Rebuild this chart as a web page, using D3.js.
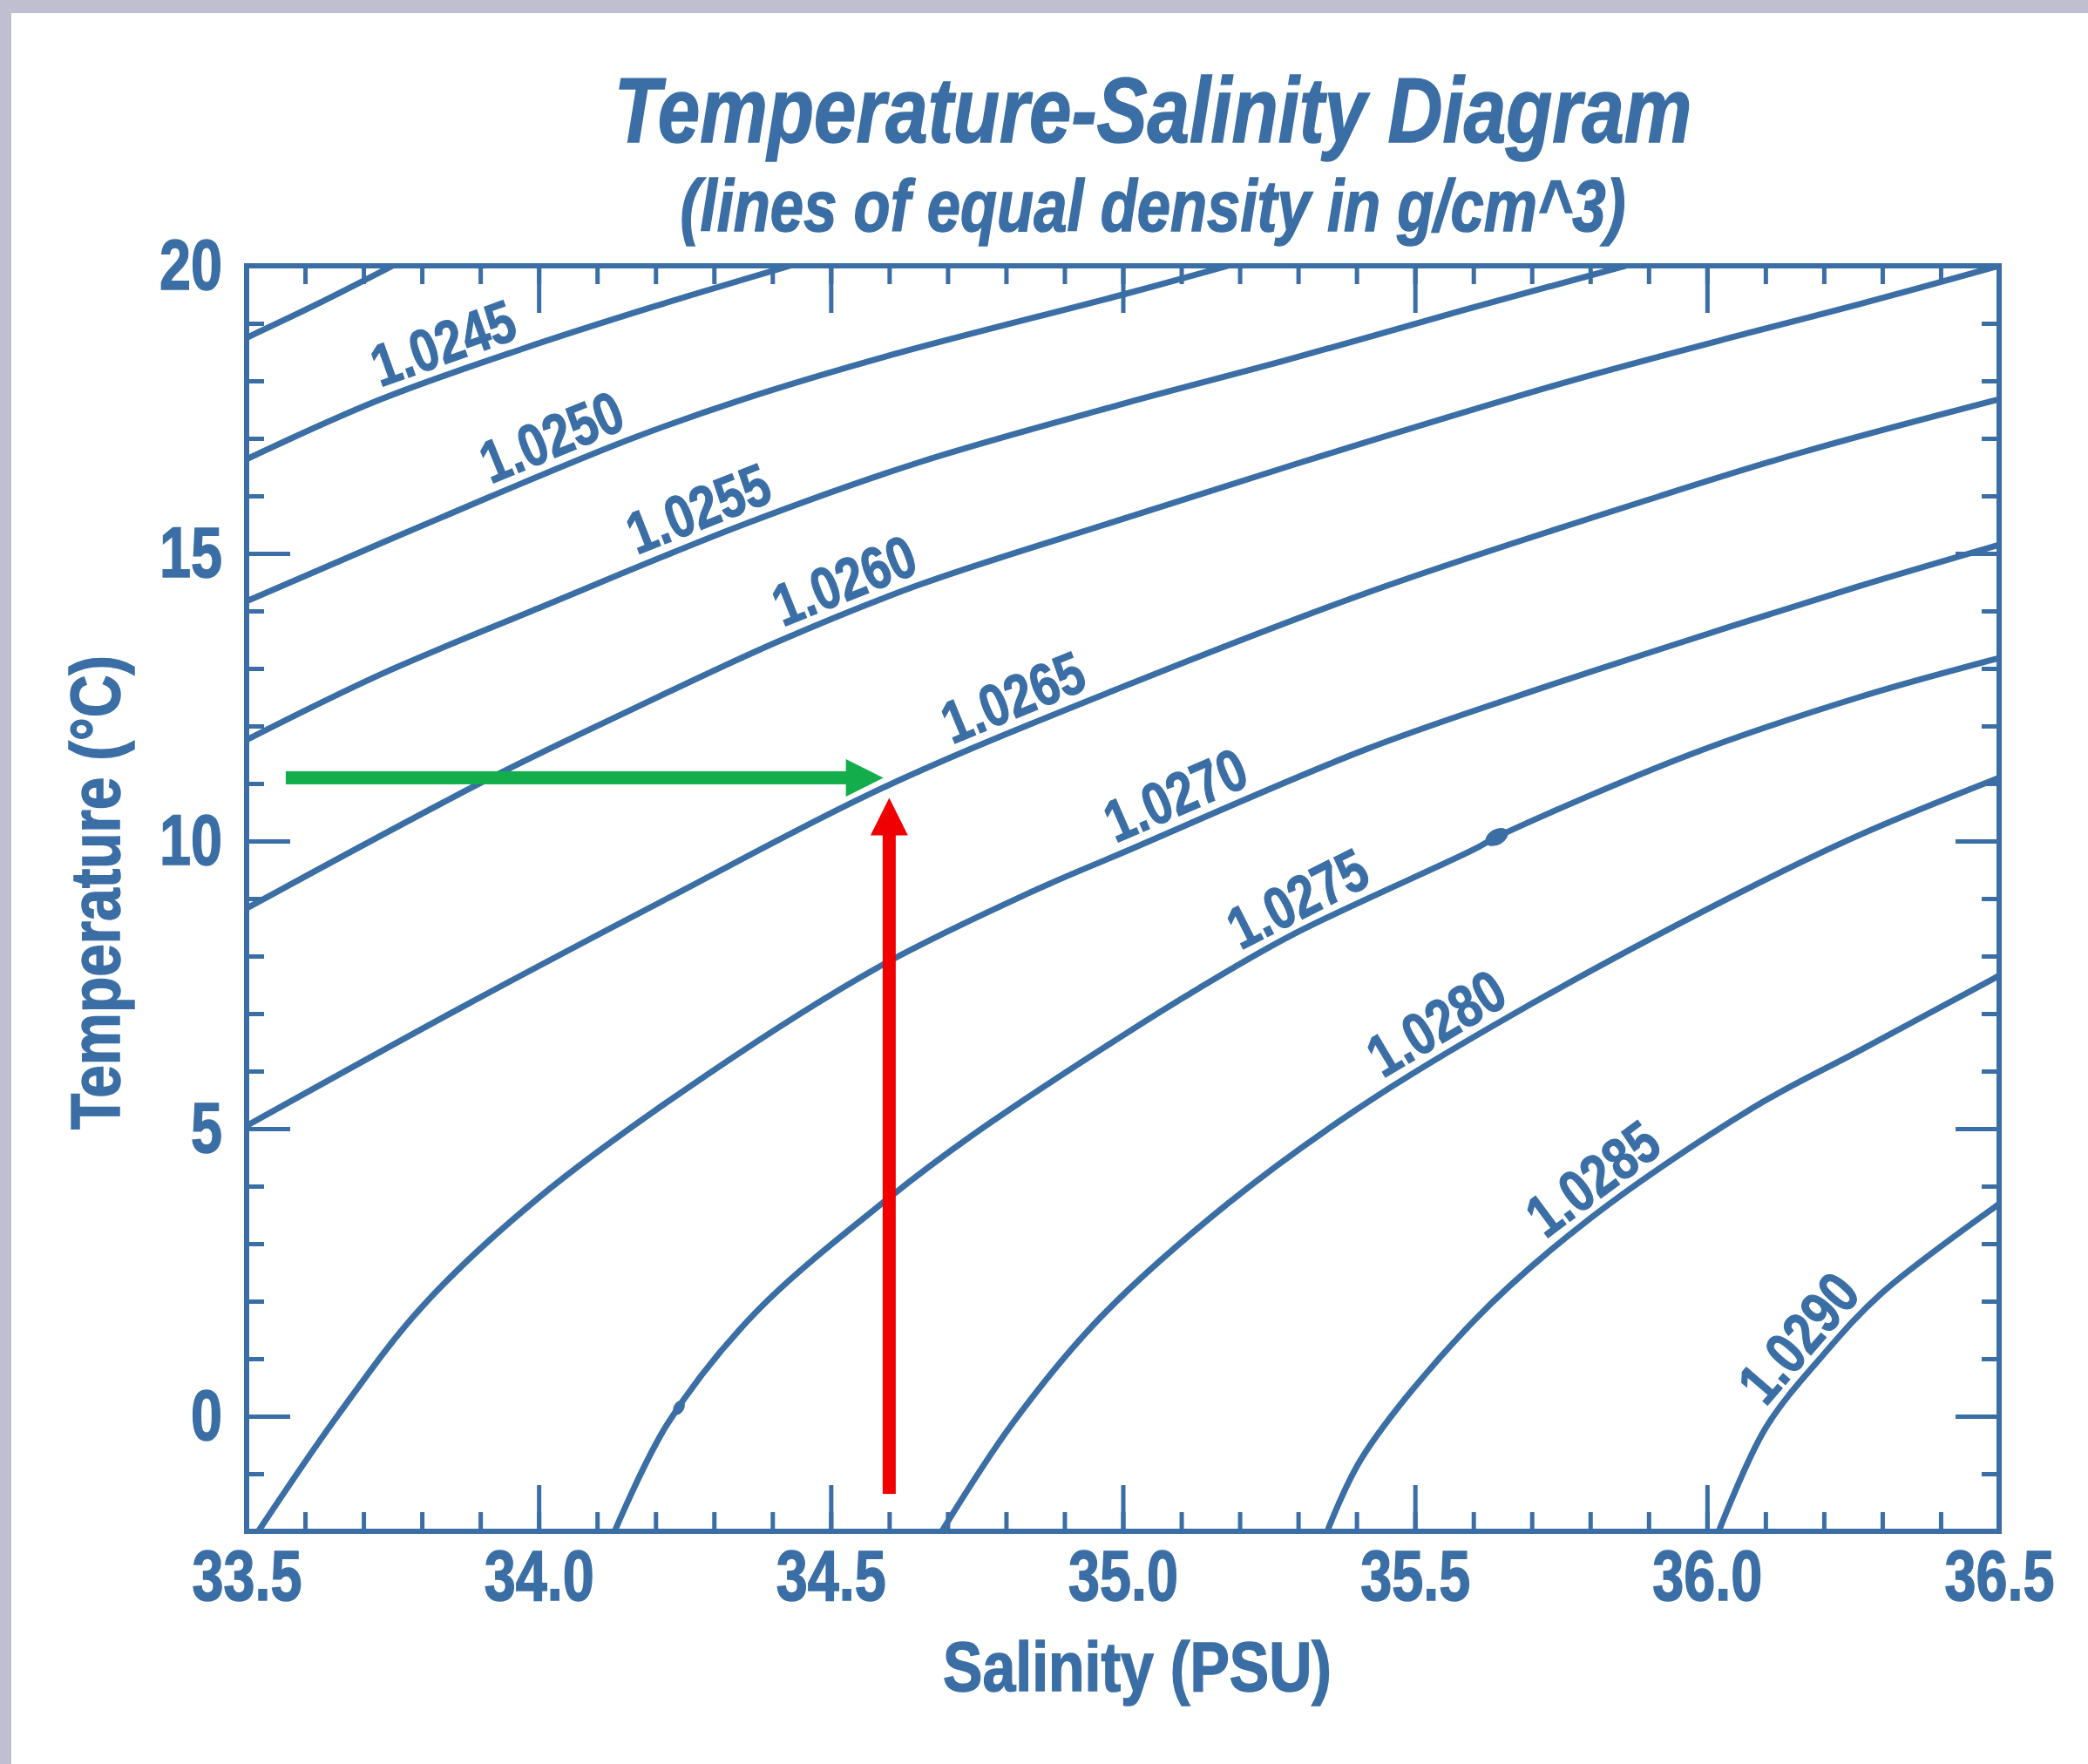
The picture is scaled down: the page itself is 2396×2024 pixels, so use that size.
<!DOCTYPE html>
<html>
<head>
<meta charset="utf-8">
<title>Temperature-Salinity Diagram</title>
<script src="https://cdn.jsdelivr.net/npm/d3@7"></script>
<style>
  html, body { margin: 0; padding: 0; background: #fff; }
  svg { display: block; }
  text { font-family: "Liberation Sans", Arial, sans-serif; font-weight: bold; }
</style>
</head>
<body>
<svg id="chart" width="2396" height="2024"></svg>
<script>
// Axis ticks
const salinityTicks = [33.5, 34.0, 34.5, 35.0, 35.5, 36.0, 36.5];
const temperatureTicks = [0, 5, 10, 15, 20];

// Lines of equal density as [salinity, temperature]
const rho10240 = [[33.5, 18.75], [33.62, 19.33], [33.75, 20.0]];
const rho10245 = [[33.5, 16.64], [33.73, 17.68], [33.97, 18.55], [34.2, 19.3], [34.43, 20.0]];
const rho10250 = [[33.5, 14.17], [33.92, 16.0], [34.16, 17.0], [34.35, 17.68], [34.6, 18.44], [35.0, 19.5], [35.18, 20.0]];
const rho10255 = [[33.5, 11.76], [33.73, 12.9], [34.0, 14.05], [34.35, 15.5], [34.65, 16.58], [35.0, 17.6], [35.28, 18.36], [35.58, 19.22], [35.86, 20.0]];
const rho10260 = [[33.5, 8.83], [33.92, 11.11], [34.16, 12.29], [34.41, 13.47], [34.65, 14.45], [35.0, 15.6], [35.38, 16.82], [35.77, 18.01], [36.07, 18.83], [36.26, 19.33], [36.5, 20.0]];
const rho10265 = [[33.5, 5.05], [33.87, 7.12], [34.22, 9.0], [34.59, 10.93], [35.0, 12.68], [35.43, 14.36], [35.92, 16.0], [36.16, 16.75], [36.5, 17.68]];
const rho10270 = [[33.52, -2.0], [33.655, 0.0], [33.8, 1.9], [34.0, 3.8], [34.29, 5.95], [34.58, 7.8], [34.84, 9.1], [35.0, 9.8], [35.41, 11.57], [35.67, 12.5], [35.97, 13.5], [36.26, 14.43], [36.5, 15.15]];
const rho10275 = [[34.13, -2.0], [34.22, -0.14], [34.37, 1.79], [34.6, 3.8], [34.74, 4.87], [35.0, 6.62], [35.13, 7.44], [35.29, 8.37], [35.6, 9.85], [35.64, 10.07], [35.97, 11.5], [36.26, 12.5], [36.5, 13.18]];
const rho10280 = [[34.69, -2.0], [34.81, -0.14], [34.96, 1.7], [35.18, 3.7], [35.41, 5.4], [35.67, 7.0], [36.04, 9.02], [36.26, 10.1], [36.5, 11.1]];
const rho10285 = [[35.35, -2.0], [35.41, -0.71], [35.6, 1.65], [35.8, 3.44], [36.08, 5.37], [36.26, 6.35], [36.5, 7.66]];
const rho10290 = [[36.02, -2.0], [36.1, -0.21], [36.2, 1.08], [36.3, 2.15], [36.5, 3.69]];

const isopycnals = [rho10240, rho10245, rho10250, rho10255, rho10260, rho10265,
                    rho10270, rho10275, rho10280, rho10285, rho10290];
const densityLabels = ["", "1.0245", "1.0250", "1.0255", "1.0260", "1.0265",
                       "1.0270", "1.0275", "1.0280", "1.0285", "1.0290"];
const labelStartS = [null, 33.735, 33.925, 34.175, 34.425, 34.715, 34.995, 35.21, 35.455, 35.735, 36.115];

// Little blots on the 1.0275 line
const blots = [[34.24, 0.15], [35.64, 10.07]];

// Reading example: 11 °C and 34.6 PSU
const greenArrow = [[33.567, 11.1], [34.59, 11.1]];
const redArrow = [[34.6, -1.35], [34.6, 10.75]];

const BLUE = "#3a6ea5";
const svg = d3.select("#chart");
const box = { left: 283, right: 2294, top: 305, bottom: 1757 };

const x = d3.scaleLinear().domain([33.5, 36.5]).range([box.left, box.right]);
const y = d3.scaleLinear().domain([-2, 20]).range([box.bottom, box.top]);

// page background and the grey frame at top/left
svg.append("rect").attr("width", 2396).attr("height", 2024).attr("fill", "#fff");
svg.append("rect").attr("width", 2396).attr("height", 15).attr("fill", "#bfbfd0");
svg.append("rect").attr("width", 13).attr("height", 2024).attr("fill", "#bfbfd0");

svg.append("defs").append("clipPath").attr("id", "plotClip")
  .append("rect")
  .attr("x", box.left).attr("y", box.top)
  .attr("width", box.right - box.left).attr("height", box.bottom - box.top);

// Titles
function boldText(transform, size, str, italic) {
  svg.append("text")
    .attr("transform", transform)
    .attr("text-anchor", "middle")
    .attr("font-size", size)
    .attr("font-style", italic ? "italic" : "normal")
    .attr("fill", BLUE)
    .attr("stroke", BLUE)
    .attr("stroke-width", 1.5)
    .text(str);
}

boldText("translate(1323,163) scale(0.83,1)", 105, "Temperature-Salinity Diagram", true);
boldText("translate(1323,265) scale(0.82,1)", 84, "(lines of equal density in g/cm^3)", true);
boldText("translate(1305,1940) scale(0.85,1)", 80, "Salinity (PSU)", false);
boldText("translate(137,1024) rotate(-90) scale(0.845,1)", 80, "Temperature (°C)", false);

// Ticks, all pointing inward
const minorS = d3.range(335, 366).map(v => v / 10);
const minorT = d3.range(-2, 21);

function drawTicks(axisFn, scale, values, size, transform) {
  svg.append("g")
    .attr("transform", transform)
    .call(axisFn(scale).tickValues(values).tickSize(-size).tickSizeOuter(0).tickFormat(""))
    .call(g => g.select(".domain").remove())
    .call(g => g.selectAll("line").attr("stroke", BLUE).attr("stroke-width", 5));
}

drawTicks(d3.axisTop, x, minorS, 21, `translate(0,${box.top})`);
drawTicks(d3.axisTop, x, salinityTicks, 54, `translate(0,${box.top})`);
drawTicks(d3.axisRight, y, minorT, 20, `translate(${box.right},0)`);
drawTicks(d3.axisRight, y, temperatureTicks, 50, `translate(${box.right},0)`);
drawTicks(d3.axisBottom, x, minorS, 22, `translate(0,${box.bottom})`);
drawTicks(d3.axisLeft, y, minorT, 20, `translate(${box.left},0)`);

// Labelled bottom axis
const xAxis = svg.append("g")
  .attr("transform", `translate(0,${box.bottom})`)
  .call(d3.axisBottom(x).tickValues(salinityTicks).tickSize(-53).tickSizeOuter(0)
    .tickPadding(21).tickFormat(d3.format(".1f")));
xAxis.select(".domain").remove();
xAxis.selectAll("line").attr("stroke", BLUE).attr("stroke-width", 5);
xAxis.selectAll("text")
  .attr("fill", BLUE)
  .attr("stroke", BLUE)
  .attr("stroke-width", 1.5)
  .attr("font-size", 82)
  .attr("font-family", "Liberation Sans, Arial, sans-serif")
  .attr("transform", "scale(0.79,1)");

// Labelled left axis
const yAxis = svg.append("g")
  .attr("transform", `translate(${box.left},0)`)
  .call(d3.axisLeft(y).tickValues(temperatureTicks).tickSize(-50).tickSizeOuter(0)
    .tickPadding(28).tickFormat(d3.format("d")));
yAxis.select(".domain").remove();
yAxis.selectAll("line").attr("stroke", BLUE).attr("stroke-width", 5);
yAxis.selectAll("text")
  .attr("fill", BLUE)
  .attr("stroke", BLUE)
  .attr("stroke-width", 1.5)
  .attr("font-size", 82)
  .attr("font-family", "Liberation Sans, Arial, sans-serif")
  .attr("x", -28 / 0.79)
  .attr("transform", "scale(0.79,1)");

// Plot frame
svg.append("rect")
  .attr("x", box.left).attr("y", box.top)
  .attr("width", box.right - box.left).attr("height", box.bottom - box.top)
  .attr("fill", "none")
  .attr("stroke", BLUE)
  .attr("stroke-width", 6);

// Density lines
const line = d3.line()
  .x(d => x(d[0]))
  .y(d => y(d[1]))
  .curve(d3.curveCatmullRom.alpha(0.5));

const paths = svg.append("g")
  .attr("clip-path", "url(#plotClip)")
  .selectAll("path.iso")
  .data(isopycnals)
  .join("path")
  .attr("class", "iso")
  .attr("d", line)
  .attr("fill", "none")
  .attr("stroke", BLUE)
  .attr("stroke-width", 7)
  .attr("stroke-linecap", "round");

svg.append("g")
  .selectAll("ellipse")
  .data(blots)
  .join("ellipse")
  .attr("cx", d => x(d[0]))
  .attr("cy", d => y(d[1]))
  .attr("rx", (d, i) => i ? 14 : 9)
  .attr("ry", (d, i) => i ? 9 : 6)
  .attr("transform", (d, i) => `rotate(${i ? -30 : -60},${x(d[0])},${y(d[1])})`)
  .attr("fill", BLUE);

// Labels sit just above their line, turned with it
function lengthAtS(node, s) {
  const target = x(s);
  let lo = 0, hi = node.getTotalLength();
  for (let k = 0; k < 40; k++) {
    const mid = (lo + hi) / 2;
    if (node.getPointAtLength(mid).x < target) lo = mid; else hi = mid;
  }
  return lo;
}

paths.each(function(d, i) {
  if (!densityLabels[i]) return;
  const total = this.getTotalLength();
  const l0 = lengthAtS(this, labelStartS[i]);
  const p0 = this.getPointAtLength(l0);
  const p1 = this.getPointAtLength(Math.min(total, l0 + 165));
  const angle = Math.atan2(p1.y - p0.y, p1.x - p0.x) * 180 / Math.PI;
  svg.append("text")
    .attr("transform", `translate(${p0.x},${p0.y}) rotate(${angle}) scale(0.82,1)`)
    .attr("y", -13)
    .attr("font-size", 68)
    .attr("fill", BLUE)
    .attr("stroke", BLUE)
    .attr("stroke-width", 1.2)
    .text(densityLabels[i]);
});

// Arrows
function arrow(points, color) {
  const p0 = [x(points[0][0]), y(points[0][1])];
  const p1 = [x(points[1][0]), y(points[1][1])];
  const len = Math.hypot(p1[0] - p0[0], p1[1] - p0[1]);
  const angle = Math.atan2(p1[1] - p0[1], p1[0] - p0[0]) * 180 / Math.PI;
  const head = 43, half = 21.5, shaft = 7.5;
  const g = svg.append("g")
    .attr("transform", `translate(${p0[0]},${p0[1]}) rotate(${angle})`);
  g.append("rect")
    .attr("x", 0).attr("y", -shaft)
    .attr("width", len - head + 1).attr("height", shaft * 2)
    .attr("fill", color);
  g.append("path")
    .attr("d", `M${len - head},${-half} L${len},0 L${len - head},${half} Z`)
    .attr("fill", color);
}

arrow(greenArrow, "#13ad4b");
arrow(redArrow, "#f00000");
</script>
</body>
</html>
